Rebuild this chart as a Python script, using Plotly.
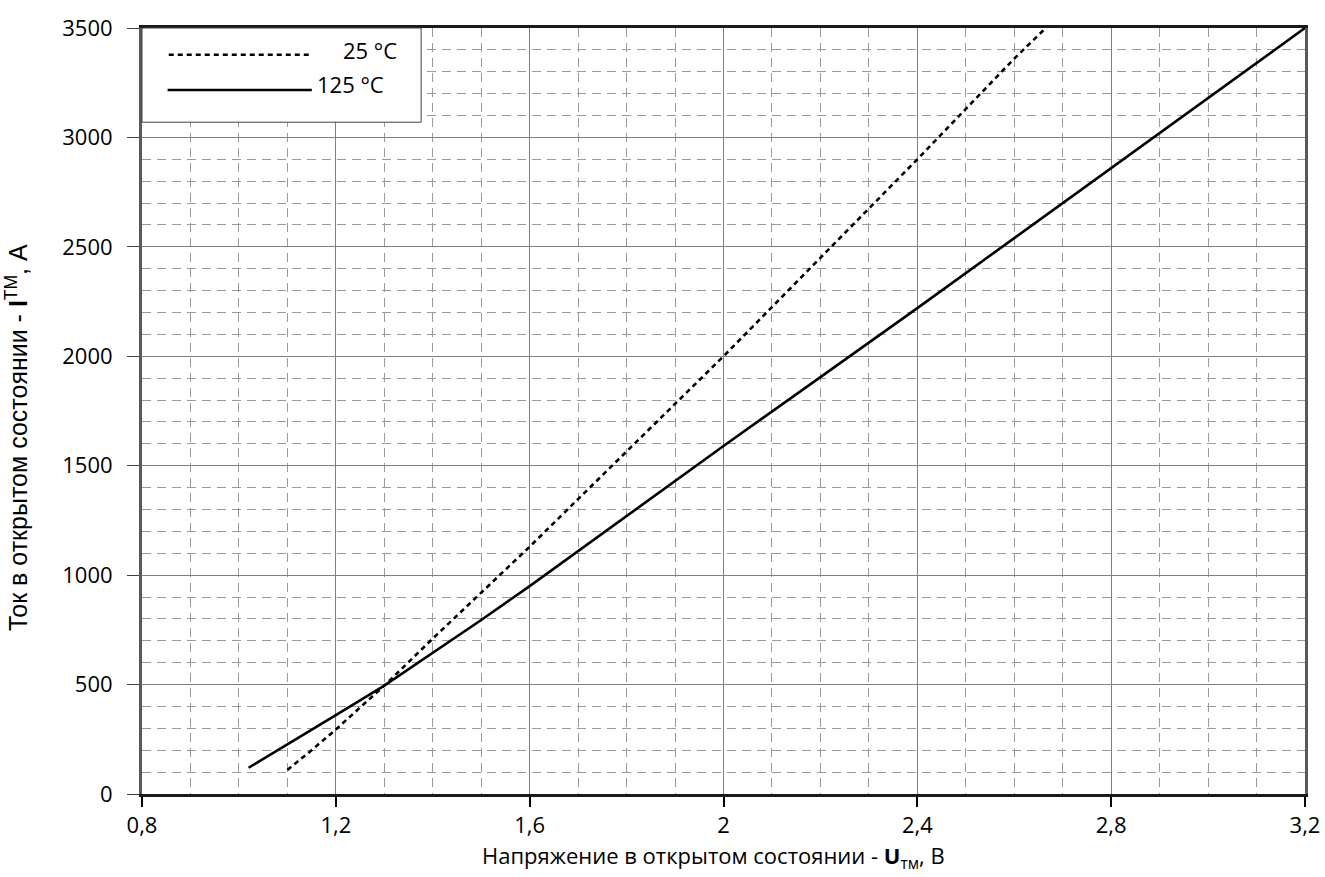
import plotly.graph_objects as go

# 25 °C curve (dashed)
u_25 = [1.10, 1.15, 1.20, 1.25, 1.30, 1.40, 1.50, 1.60, 1.80, 2.00, 2.20, 2.40, 2.60, 2.665]
i_25 = [110, 200, 295, 395, 495, 710, 920, 1130, 1565, 2000, 2450, 2900, 3360, 3500]

# 125 °C curve (solid)
u_125 = [1.02, 1.10, 1.20, 1.30, 1.40, 1.50, 1.60, 1.80, 2.00, 2.20, 2.40, 2.60, 2.80, 3.00, 3.20]
i_125 = [120, 225, 360, 495, 645, 795, 950, 1270, 1590, 1905, 2220, 2540, 2860, 3180, 3500]

x_ticks = [0.8, 1.2, 1.6, 2.0, 2.4, 2.8, 3.2]
x_tick_text = ["0,8", "1,2", "1,6", "2", "2,4", "2,8", "3,2"]
y_ticks = [0, 500, 1000, 1500, 2000, 2500, 3000, 3500]
y_tick_text = [str(v) for v in y_ticks]

legend_names = ["25 °C", "125 °C"]
x_title = "Напряжение в открытом состоянии - <b>U</b><sub>тм</sub>, В"
y_title = "Ток в открытом состоянии - <b>I</b><sup>ТМ</sup>, А"

TICKFONT = dict(family="Open Sans", size=22, color="#000000")

fig = go.Figure()
fig.add_trace(go.Scatter(x=u_25, y=i_25, mode="lines", name=legend_names[0],
                         line=dict(color="#000000", width=2.6, dash="5px,4px"),
                         showlegend=False))
fig.add_trace(go.Scatter(x=u_125, y=i_125, mode="lines", name=legend_names[1],
                         line=dict(color="#000000", width=2.6),
                         showlegend=False))

# custom legend box (paper coordinates)
fig.add_shape(type="rect", xref="paper", yref="paper", x0=0.0, x1=0.24, y0=0.877, y1=1.0,
              line=dict(color="#404040", width=1), fillcolor="white", layer="above")
fig.add_shape(type="line", xref="paper", yref="paper", x0=0.023, x1=0.146, y0=0.965, y1=0.965,
              line=dict(color="#000000", width=2.6, dash="5px,4px"), layer="above")
fig.add_shape(type="line", xref="paper", yref="paper", x0=0.022, x1=0.146, y0=0.919, y1=0.919,
              line=dict(color="#000000", width=2.6), layer="above")
fig.add_annotation(xref="paper", yref="paper", x=0.221, y=0.971, text=legend_names[0],
                   showarrow=False, xanchor="right", yanchor="middle", font=TICKFONT)
fig.add_annotation(xref="paper", yref="paper", x=0.149, y=0.927, text=legend_names[1],
                   showarrow=False, xanchor="left", yanchor="middle", font=TICKFONT)

# axis titles
fig.add_annotation(xref="paper", yref="paper", x=0.491, y=-0.082, text=x_title,
                   showarrow=False, xanchor="center", yanchor="middle",
                   font=dict(family="Open Sans", size=22, color="#000000"))
fig.add_annotation(xref="paper", yref="paper", x=-0.1075, y=0.466, text=y_title,
                   showarrow=False, xanchor="center", yanchor="middle", textangle=-90,
                   font=dict(family="Liberation Sans", size=25, color="#000000"))

fig.update_layout(
    width=1325, height=877,
    margin=dict(l=142, r=20, t=28, b=83),
    plot_bgcolor="white", paper_bgcolor="white",
    showlegend=False,
)

fig.update_xaxes(
    range=[0.8, 3.2], tickvals=x_ticks, ticktext=x_tick_text, automargin=False,
    tickfont=TICKFONT, ticks="outside", ticklen=10, tickcolor="#000000", tickwidth=2,
    showline=True, linecolor="#1a1a1a", linewidth=3, mirror=True,
    showgrid=True, gridcolor="#7f7f7f", gridwidth=1,
    minor=dict(dtick=0.1, showgrid=True, gridcolor="#9a9a9a", griddash="9px,6px", gridwidth=1),
    zeroline=False,
)
fig.update_yaxes(
    range=[0, 3500], tickvals=y_ticks, ticktext=y_tick_text, automargin=False,
    tickfont=TICKFONT, ticks="outside", ticklen=12, tickcolor="#404040", tickwidth=1,
    ticklabelstandoff=10,
    showline=True, linecolor="#595959", linewidth=3, mirror=True,
    showgrid=True, gridcolor="#7f7f7f", gridwidth=1,
    minor=dict(dtick=100, showgrid=True, gridcolor="#9a9a9a", griddash="9px,6px", gridwidth=1),
    zeroline=False,
)

fig.write_html("out.html")
